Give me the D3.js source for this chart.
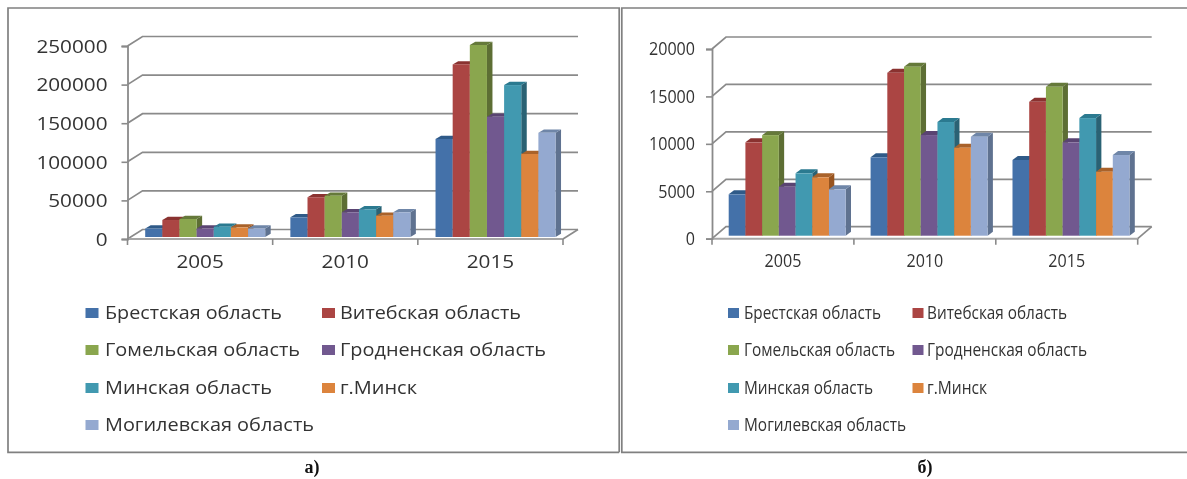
<!DOCTYPE html>
<html><head><meta charset="utf-8">
<style>html,body{margin:0;padding:0;background:#fff}svg{display:block}</style>
<script src="https://cdnjs.cloudflare.com/ajax/libs/d3/7.8.5/d3.min.js"></script>
</head><body><div id="c"></div>
<script>
const years = ["2005","2010","2015"];
const seriesNames = ["Брестская область","Витебская область","Гомельская область","Гродненская область","Минская область","г.Минск","Могилевская область"];
const colors = ["#4471A9","#AB4543","#8AA64E","#71588F","#4199B0","#DC843D","#94A9D0"];
const topColors = ["#2F5A88","#8A3230","#65793A","#5A4472","#2B7A90","#A9622A","#6F86A8"];
const sideColors = ["#35587F","#7E2F2D","#5D6E34","#503D66","#2A6274","#98541F","#5F7290"];

const brestA = [11000,25500,127000];
const vitebskA = [22000,51500,223600];
const gomelA = [23300,53500,248700];
const grodnoA = [11000,32000,155800];
const minskRegA = [13300,35900,196800];
const minskCityA = [12500,27600,107500];
const mogilevA = [11000,32000,135000];

const brestB = [4360,8265,7980];
const vitebskB = [9840,17180,14120];
const gomelB = [10600,17815,15700];
const grodnoB = [5165,10610,9845];
const minskRegB = [6575,11985,12400];
const minskCityB = [6155,9275,6745];
const mogilevB = [4890,10435,8505];

const svg = d3.select("#c").append("svg").attr("width",1187).attr("height",479).style("filter","blur(0.5px)");
const GRID="#8a8a8a", TXT="#333333", FONT="'Open Sans',sans-serif";

function panel(o){
  const g = svg.append("g");
  const y = d3.scaleLinear().domain([0,o.max]).range([o.y0,o.yTop]);
  const yBar = d3.scaleLinear().domain([0,o.max]).range([o.base,o.base-(o.y0-o.yTop)]);
  const x = d3.scaleBand().domain(years).range([o.x0,o.x1]);
  const sub = d3.scaleBand().domain(d3.range(seriesNames.length)).range([o.inset,o.inset+o.groupW]);
  const ticks = d3.range(0,o.max+1,o.step);

  const gl = g.append("g").attr("fill","none").attr("stroke",GRID).attr("stroke-width",1.7);
  ticks.forEach(t=>{
    gl.append("path").attr("d",`M${o.x0},${y(t)}L${o.x0+o.dx},${y(t)-o.dy}L${o.x1+o.dx},${y(t)-o.dy}`);
  });
  gl.append("path").attr("d",`M${o.x1},${o.y0}L${o.x1+o.dx},${o.y0-o.dy}`);
  gl.append("path").attr("d",`M${o.x0},${o.y0}L${o.x1},${o.y0}`).attr("stroke","#a6a6a6").attr("stroke-width",2);

  const ay = g.append("g").attr("transform",`translate(${o.x0},0)`)
    .call(d3.axisLeft(y).tickValues(ticks).tickSize(o.tickY).tickPadding(o.padY).tickFormat(d3.format("d")));
  ay.select(".domain").attr("stroke",GRID).attr("stroke-width",1.8);
  ay.selectAll(".tick line").attr("stroke",GRID).attr("stroke-width",1.6);
  ay.selectAll("text").attr("font-family",FONT).attr("font-size",o.axisSize).attr("fill",TXT)
    .attr("dy","0.33em")
    .attr("textLength",d=>String(d).length*o.digitW).attr("lengthAdjust","spacingAndGlyphs");

  const ax = g.append("g").attr("transform",`translate(0,${o.y0})`)
    .call(d3.axisBottom(x).tickSize(0).tickPadding(o.padX));
  ax.select(".domain").remove();
  ax.selectAll(".tick text").attr("font-family",FONT).attr("font-size",o.axisSize).attr("fill",TXT)
    .attr("textLength",4*o.digitW).attr("lengthAdjust","spacingAndGlyphs");
  const edges = x.domain().map(d=>x(d)).concat([o.x1]);
  g.append("g").selectAll("line").data(edges).join("line")
    .attr("x1",d=>d).attr("x2",d=>d).attr("y1",o.y0).attr("y2",o.y0+o.tickX)
    .attr("stroke",GRID).attr("stroke-width",1.6);

  const bars = g.append("g");
  years.forEach((yr,yi)=>{
    o.series.forEach((vals,si)=>{
      const bx = x(yr)+sub(si), w = sub.bandwidth(), t = yBar(vals[yi]), b = o.base;
      const bg = bars.append("g");
      bg.append("path").attr("fill",sideColors[si])
        .attr("d",`M${bx+w},${t}L${bx+w+o.bdx},${t-o.bdy}L${bx+w+o.bdx},${b-o.bdy}L${bx+w},${b}Z`);
      bg.append("path").attr("fill",topColors[si])
        .attr("d",`M${bx},${t}L${bx+o.bdx},${t-o.bdy}L${bx+w+o.bdx},${t-o.bdy}L${bx+w},${t}Z`);
      bg.append("rect").attr("x",bx).attr("y",t).attr("width",w).attr("height",b-t).attr("fill",colors[si]);
    });
  });

  const lg = g.append("g");
  seriesNames.forEach((n,i)=>{
    const col=i%2, row=Math.floor(i/2);
    const cy=o.legendRows[row];
    lg.append("rect").attr("x",o.legendSw[col]).attr("y",cy-o.swH/2).attr("width",o.swW).attr("height",o.swH).attr("fill",colors[i]);
    lg.append("text").attr("x",o.legendTx[col]).attr("y",cy+o.legendSize*0.34).text(n)
      .attr("font-family",FONT).attr("font-size",o.legendSize).attr("fill",TXT)
      .attr("textLength",o.legendW[i]).attr("lengthAdjust","spacingAndGlyphs");
  });
}

const frame = svg.append("g").attr("fill","none").attr("stroke","#808080");
frame.append("path").attr("stroke-width",1.7).attr("d","M619.2,452.3H8V8H619.2V452.3");
frame.append("path").attr("stroke-width",1.7).attr("d","M1187,8H621.8V452.3H1187");

panel({series:[brestA,vitebskA,gomelA,grodnoA,minskRegA,minskCityA,mogilevA],max:250000,step:50000,
  x0:127.5,x1:563,y0:239,yTop:46,base:237,dx:15,dy:9.5,inset:17.7,groupW:120,bdx:5.5,bdy:3.2,
  tickY:6,padY:14,padX:16,tickX:6,axisSize:19,digitW:11.85,
  legendRows:[313,350,388,425],legendSw:[85.5,322],legendTx:[105,340],swW:13,swH:10,legendSize:19,
  legendW:[177,181,195,206,167,77,209]});
panel({series:[brestB,vitebskB,gomelB,grodnoB,minskRegB,minskCityB,mogilevB],max:20000,step:5000,
  x0:712,x1:1137.7,y0:238.7,yTop:49,base:235.7,dx:14,dy:12,inset:16.7,groupW:117,bdx:5.3,bdy:4,
  tickY:6,padY:11,padX:16,tickX:6,axisSize:18,digitW:9.2,
  legendRows:[313,350,388,425],legendSw:[728,912.5],legendTx:[744,927],swW:11,swH:10,legendSize:18,
  legendW:[137,140,151,160,129,60,162]});

[["а)",312],["б)",925]].forEach(([t,cx])=>{
  svg.append("text").attr("x",cx).attr("y",473).attr("text-anchor","middle").text(t)
    .attr("font-family","'Liberation Serif',serif").attr("font-weight","bold").attr("font-size",18).attr("fill","#111");
});
</script></body></html>
